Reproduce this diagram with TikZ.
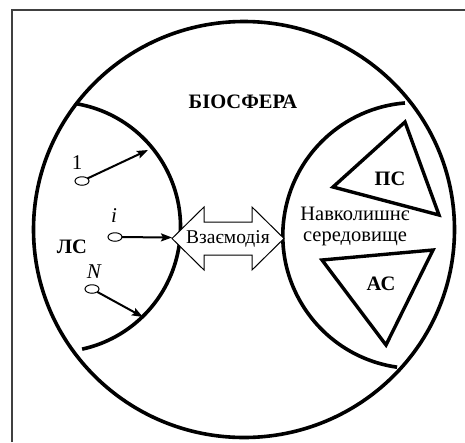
\documentclass[tikz,border=0pt]{standalone}
\usepackage{fontspec}
\setmainfont{Liberation Serif}
\usetikzlibrary{arrows.meta,shapes.geometric}
\begin{document}
\begin{tikzpicture}[x=1pt,y=-1pt,
  thickline/.style={line width=3.6pt},
  tri/.style={line width=3.4pt,line join=miter},
  bullet/.style={draw,ellipse,line width=1pt,minimum width=14pt,minimum height=8.5pt,inner sep=0pt},
  link/.style={line width=2pt,-{Stealth[length=11pt,width=8pt,inset=2pt]},shorten <=-0.5pt},
  boldlabel/.style={font=\fontsize{20.5}{22}\selectfont\bfseries},
  plainlabel/.style={font=\fontsize{20.5}{21}\selectfont},
  idx/.style={font=\fontsize{21}{22}\selectfont}]
\useasboundingbox (0,0) rectangle (465,442);
% frame (only top and left visible)
\draw[line width=1.1pt,black!75] (12,442) -- (12,10) -- (465,10);
% biosphere
\draw[thickline] (244,229.5) ellipse [x radius=210.5, y radius=208];
% left arc (LS)
\draw[thickline] (55.5,227) ++(-80.1:125) arc[start angle=-80.1,end angle=77.7,radius=125];
% right arc (environment)
\draw[thickline] (415.8,235.5) ++(98.1:133) arc[start angle=98.1,end angle=265.3,radius=133];
% double arrow
\draw[line width=1pt,fill=white,line join=miter]
  (172,238.5) -- (204,207) -- (204,222) -- (252,222) -- (252,207) -- (284,238.5)
  -- (252,270) -- (252,255) -- (204,255) -- (204,270) -- cycle;
\node[font=\fontsize{19.5}{20}\selectfont] (vz) at (228,238.5) {Взаємодія};
% triangles
\draw[tri] (333,187) -- (405,122) -- (439,215) -- cycle;
\draw[tri] (322,260) -- (433,250) -- (386,345) -- cycle;
% labels
\node[boldlabel] (bio) at (243,102) {БІОСФЕРА};
\node[boldlabel] (ls) at (72,247) {ЛС};
\node[boldlabel] (ps) at (390,179) {ПС};
\node[boldlabel] (as) at (381,284) {АС};
\node[plainlabel,align=center] (env) at (355,226.5) {Навколишнє\\середовище};
% elements
\node[bullet] (e1) at (82,181) {};
\node[bullet] (ei) at (115,237) {};
\node[bullet] (eN) at (92,289) {};
\node[idx] (l1) at (77,163) {1};
\node[idx] (li) at (114,216) {\itshape i};
\node[idx] (lN) at (94,272) {\itshape N};
\coordinate (t1) at (148,150);
\coordinate (ti) at (172,237.5);
\coordinate (tN) at (143,317);
\draw[link] (e1) -- (t1);
\draw[link] (ei) -- (ti);
\draw[link] (eN) -- (tN);
\end{tikzpicture}
\end{document}
